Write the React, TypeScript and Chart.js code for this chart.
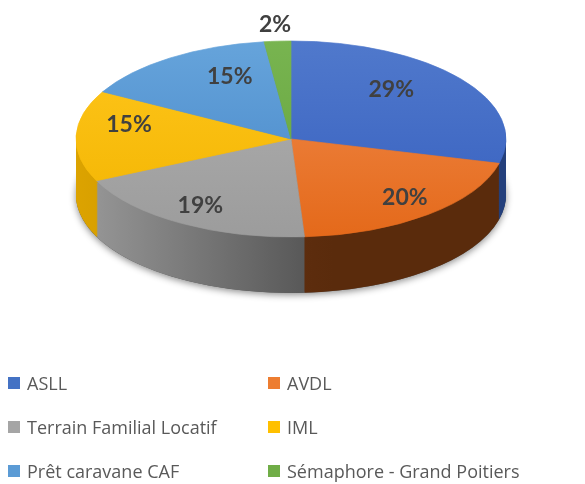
import React, { useEffect, useRef } from "react";
import { Chart, registerables } from "chart.js";

Chart.register(...registerables);

// ---- data ----
const categories = [
  "ASLL",
  "AVDL",
  "Terrain Familial Locatif",
  "IML",
  "Prêt caravane CAF",
  "Sémaphore - Grand Poitiers",
];
const shares = [29, 20, 19, 15, 15, 2];
const percentLabels = ["29%", "20%", "19%", "15%", "15%", "2%"];

// ---- styles ----
const baseColors = ["#4472c4", "#ed7d31", "#a5a5a5", "#ffc000", "#5b9bd5", "#70ad47"];
const topLight = ["#5079cc", "#f18c4e", "#b0b0b0", "#ffc61c", "#66a4db", "#78b450"];
const topDark = ["#365fbf", "#e4691a", "#9c9c9c", "#f2b400", "#4585c8", "#63a33c"];
const sideLight = ["#2f4f94", "#73391a", "#9a9a9a", "#dca300", "#3f6f9c", "#4d7a31"];
const sideDark = ["#24407c", "#5a2b0c", "#505050", "#b08200", "#2f577c", "#3c6126"];

const CX = 291;
const CY = 139;
const RX = 215;
const RY = 98;
const DEPTH = 56;
const LABEL_CY = 126;

const pie3d = {
  id: "pie3d",
  beforeDatasetsDraw(chart: any) {
    const meta = chart.getDatasetMeta(0);
    const arcs = meta.data;
    if (!arcs.length) return;
    const ctx = chart.ctx;
    const { x, y, outerRadius: r } = arcs[0].getProps(["x", "y", "outerRadius"], true);
    const ky = RY / r;
    ctx.save();
    ctx.translate(CX, CY);
    ctx.scale(RX / r, ky);
    ctx.translate(-x, -y);
    const depthU = DEPTH / ky;
    const stepU = 1 / ky;
    // shadow under the cylinder
    ctx.save();
    ctx.shadowColor = "rgba(0,0,0,0.45)";
    ctx.shadowBlur = 7;
    ctx.shadowOffsetY = 2;
    ctx.fillStyle = "#555";
    ctx.beginPath();
    ctx.arc(x, y + depthU, r, 0, Math.PI * 2);
    ctx.fill();
    ctx.restore();
    for (let d = depthU; d >= stepU; d -= stepU) {
      arcs.forEach((arc: any, i: number) => {
        const { startAngle, endAngle } = arc.getProps(["startAngle", "endAngle"], true);
        const g = ctx.createLinearGradient(x - r, 0, x + r * 0.2, 0);
        g.addColorStop(0, sideLight[i]);
        g.addColorStop(1, sideDark[i]);
        ctx.fillStyle = g;
        ctx.beginPath();
        ctx.moveTo(x, y + d);
        ctx.arc(x, y + d, r, startAngle, endAngle);
        ctx.closePath();
        ctx.fill();
      });
    }
  },
  afterDatasetsDraw(chart: any) {
    const meta = chart.getDatasetMeta(0);
    const arcs = meta.data;
    if (!arcs.length) return;
    const ctx = chart.ctx;
    ctx.restore();
    ctx.save();
    ctx.font = "bold 23px Lato";
    ctx.fillStyle = "#404040";
    ctx.textAlign = "center";
    ctx.textBaseline = "middle";
    arcs.forEach((arc: any, i: number) => {
      const { startAngle, endAngle } = arc.getProps(["startAngle", "endAngle"], true);
      const mid = (startAngle + endAngle) / 2;
      const s = Math.sin(mid);
      const c = Math.cos(mid);
      let px: number, py: number;
      if (shares[i] < 5) {
        px = CX + 1.18 * RX * c;
        py = LABEL_CY + 1.04 * RY * s;
      } else {
        const f = 0.76 + 0.195 * s - 0.134 * s * s;
        px = CX + f * RX * c;
        py = LABEL_CY + s * (s < 0 ? 60 : 93);
      }
      ctx.fillText(percentLabels[i], px, py);
    });
    ctx.restore();
  },
};

function grad(ctxArg: any, i: number) {
  const chart = ctxArg.chart;
  const area = chart.chartArea;
  if (!area) return baseColors[i];
  const g = chart.ctx.createLinearGradient(0, area.top, 0, area.bottom);
  g.addColorStop(0, topLight[i]);
  g.addColorStop(1, topDark[i]);
  return g;
}

export default function App() {
  const ref = useRef<HTMLCanvasElement>(null);
  useEffect(() => {
    if (!ref.current) return;
    const chart = new Chart(ref.current, {
      type: "pie",
      data: {
        labels: categories,
        datasets: [
          {
            data: shares,
            backgroundColor: (c: any) => grad(c, c.dataIndex),
            borderColor: (c: any) => grad(c, c.dataIndex),
            borderWidth: 1,
            hoverOffset: 0,
            clip: false as any,
          },
        ],
      },
      options: {
        responsive: false,
        animation: false,
        devicePixelRatio: 1,
        events: [],
        layout: { padding: 10 },
        plugins: {
          legend: { display: false },
          tooltip: { enabled: false },
        },
      },
      plugins: [pie3d],
    });
    return () => chart.destroy();
  }, []);

  return (
    <div
      style={{
        position: "absolute",
        left: 0,
        top: 0,
        width: 585,
        height: 484,
        background: "#fff",
        overflow: "hidden",
        fontFamily: "'Open Sans', sans-serif",
      }}
    >
      <canvas
        ref={ref}
        width={585}
        height={484}
        style={{ position: "absolute", left: 0, top: 0, width: 585, height: 484 }}
      />
      {categories.map((name, i) => {
        const col = i % 2;
        const row = Math.floor(i / 2);
        return (
          <div
            key={name}
            style={{
              position: "absolute",
              left: 8 + col * 260,
              top: 371 + row * 44,
              height: 24,
              display: "flex",
              alignItems: "center",
              whiteSpace: "nowrap",
              fontSize: 18,
              color: "#595959",
            }}
          >
            <span
              style={{
                display: "inline-block",
                width: 12,
                height: 12,
                background: baseColors[i],
                marginRight: 7,
              }}
            />
            {name}
          </div>
        );
      })}
    </div>
  );
}
